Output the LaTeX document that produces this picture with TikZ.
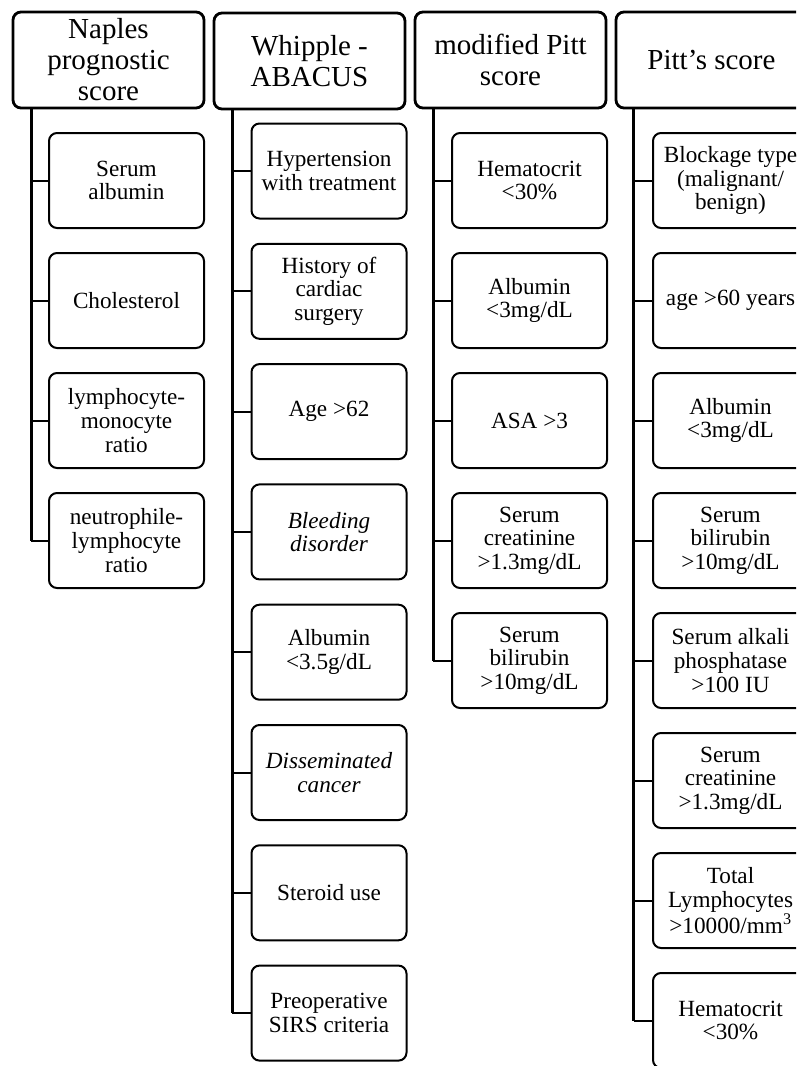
\documentclass[tikz,border=0pt]{standalone}
\usepackage{fontspec}
\setmainfont{Liberation Serif}
\begin{document}
\begin{tikzpicture}[x=1pt, y=-1pt,
  scorebox/.style={draw, line width=2.8pt, rounded corners=8pt, minimum width=191pt, minimum height=96pt, align=center, inner sep=0pt, font=\fontsize{29}{31}\selectfont},
  itembox/.style={draw, line width=2pt, rounded corners=8pt, minimum width=155pt, minimum height=95pt, align=center, inner sep=0pt, font=\fontsize{23.2}{23.6}\selectfont},
  trunkline/.style={line width=2.8pt},
  branchline/.style={line width=2pt}]
  \useasboundingbox[fill=white] (0,0) rectangle (796,1066);
  \clip (0,0) rectangle (796,1066);

  \node[scorebox] (naples) at (108.5,60) {Naples\\ prognostic\\ score};
  \node[scorebox] (whipple) at (309.5,61) {Whipple -\\ ABACUS};
  \node[scorebox] (mpitt) at (510.5,60) {modified Pitt\\ score};
  \node[scorebox] (pitt) at (711.5,60) {Pitt’s score};

  \node[itembox] (n1) at (126.5,180.5) {Serum\\ albumin};
  \node[itembox] (n2) at (126.5,300.5) {Cholesterol};
  \node[itembox] (n3) at (126.5,420.5) {lymphocyte-\\ monocyte\\ ratio};
  \node[itembox] (n4) at (126.5,540.5) {neutrophile-\\ lymphocyte\\ ratio};

  \node[itembox] (w1) at (329,171) {Hypertension\\ with treatment};
  \node[itembox] (w2) at (329,291.3) {History of\\ cardiac\\ surgery};
  \node[itembox] (w3) at (329,411.6) {Age >62};
  \node[itembox] (w4) at (329,531.9) {\textit{Bleeding}\\ \textit{disorder}};
  \node[itembox] (w5) at (329,652.2) {Albumin\\ <3.5g/dL};
  \node[itembox] (w6) at (329,772.5) {\textit{Disseminated}\\ \textit{cancer}};
  \node[itembox] (w7) at (329,892.8) {Steroid use};
  \node[itembox] (w8) at (329,1013.1) {Preoperative\\ SIRS criteria};

  \node[itembox] (m1) at (529.5,180.5) {Hematocrit\\ <30\%};
  \node[itembox] (m2) at (529.5,300.5) {Albumin\\ <3mg/dL};
  \node[itembox] (m3) at (529.5,420.5) {ASA >3};
  \node[itembox] (m4) at (529.5,540.5) {Serum\\ creatinine\\ >1.3mg/dL};
  \node[itembox] (m5) at (529.5,660.5) {Serum\\ bilirubin\\ >10mg/dL};

  \node[itembox] (p1) at (730.5,180.5) {Blockage type\\ (malignant/\\ benign)};
  \node[itembox] (p2) at (730.5,300.5) {age >60 years};
  \node[itembox] (p3) at (730.5,420.5) {Albumin\\ <3mg/dL};
  \node[itembox] (p4) at (730.5,540.5) {Serum\\ bilirubin\\ >10mg/dL};
  \node[itembox] (p5) at (730.5,660.5) {Serum alkali\\ phosphatase\\ >100 IU};
  \node[itembox] (p6) at (730.5,780.5) {Serum\\ creatinine\\ >1.3mg/dL};
  \node[itembox] (p7) at (730.5,900.5) {Total\\ Lymphocytes\\ >10000/mm\textsuperscript{3}};
  \node[itembox] (p8) at (730.5,1020.5) {Hematocrit\\ <30\%};

  \coordinate (nt) at ([xshift=19.5pt]naples.south west);
  \coordinate (wt) at ([xshift=19.5pt]whipple.south west);
  \coordinate (mt) at ([xshift=19.5pt]mpitt.south west);
  \coordinate (pt) at ([xshift=19pt]pitt.south west);

  \draw[trunkline] (nt) -- (nt |- n4.west);
  \draw[branchline] (nt |- n1.west) -- (n1.west);
  \draw[branchline] (nt |- n2.west) -- (n2.west);
  \draw[branchline] (nt |- n3.west) -- (n3.west);
  \draw[branchline] (nt |- n4.west) -- (n4.west);

  \draw[trunkline] (wt) -- (wt |- w8.west);
  \draw[branchline] (wt |- w1.west) -- (w1.west);
  \draw[branchline] (wt |- w2.west) -- (w2.west);
  \draw[branchline] (wt |- w3.west) -- (w3.west);
  \draw[branchline] (wt |- w4.west) -- (w4.west);
  \draw[branchline] (wt |- w5.west) -- (w5.west);
  \draw[branchline] (wt |- w6.west) -- (w6.west);
  \draw[branchline] (wt |- w7.west) -- (w7.west);
  \draw[branchline] (wt |- w8.west) -- (w8.west);

  \draw[trunkline] (mt) -- (mt |- m5.west);
  \draw[branchline] (mt |- m1.west) -- (m1.west);
  \draw[branchline] (mt |- m2.west) -- (m2.west);
  \draw[branchline] (mt |- m3.west) -- (m3.west);
  \draw[branchline] (mt |- m4.west) -- (m4.west);
  \draw[branchline] (mt |- m5.west) -- (m5.west);

  \draw[trunkline] (pt) -- (pt |- p8.west);
  \draw[branchline] (pt |- p1.west) -- (p1.west);
  \draw[branchline] (pt |- p2.west) -- (p2.west);
  \draw[branchline] (pt |- p3.west) -- (p3.west);
  \draw[branchline] (pt |- p4.west) -- (p4.west);
  \draw[branchline] (pt |- p5.west) -- (p5.west);
  \draw[branchline] (pt |- p6.west) -- (p6.west);
  \draw[branchline] (pt |- p7.west) -- (p7.west);
  \draw[branchline] (pt |- p8.west) -- (p8.west);
\end{tikzpicture}
\end{document}
